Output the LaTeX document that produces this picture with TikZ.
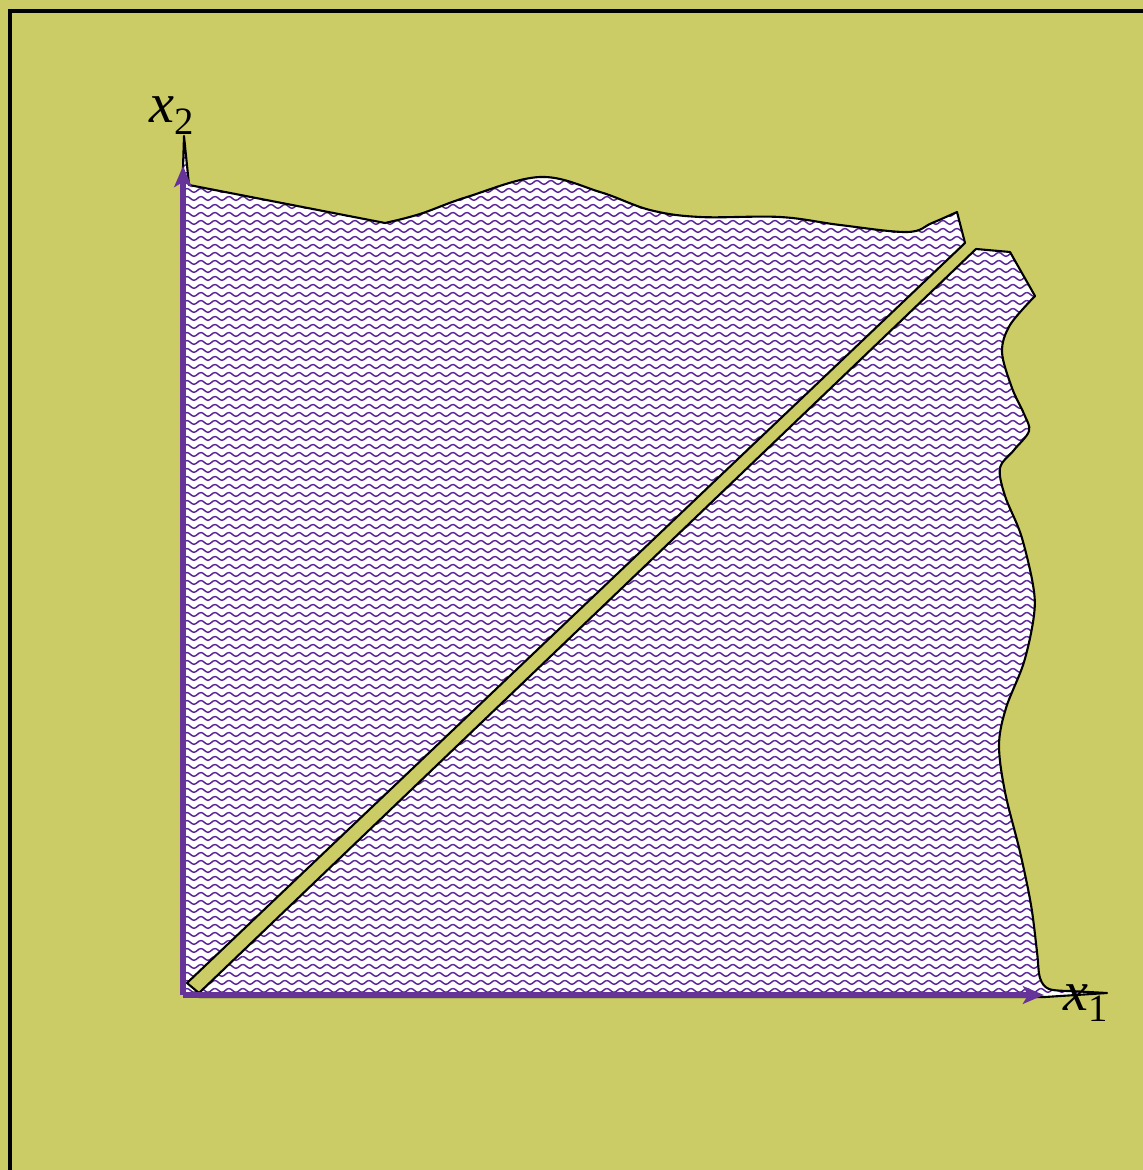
\documentclass[tikz,border=0pt]{standalone}
\usepackage{fontspec}
\setmainfont{Liberation Serif}
\usepackage{tikz}
\usetikzlibrary{arrows.meta, patterns}
\usepackage{xcolor}
\definecolor{domolive}{RGB}{204,204,102}
\definecolor{domaxis}{RGB}{102,51,153}
\definecolor{domwave}{RGB}{90,35,155}
\pgfdeclarepatternformonly{domwaves}{\pgfpointorigin}{\pgfpoint{4.1pt}{2.28pt}}{\pgfpoint{4.1pt}{2.28pt}}{
  \pgfsetlinewidth{0.45pt}
  \pgfpathmoveto{\pgfpoint{0pt}{1.74pt}}
  \pgfpathcurveto{\pgfpoint{0.74pt}{1.74pt}}{\pgfpoint{1.31pt}{0.54pt}}{\pgfpoint{2.05pt}{0.54pt}}
  \pgfpathcurveto{\pgfpoint{2.79pt}{0.54pt}}{\pgfpoint{3.36pt}{1.74pt}}{\pgfpoint{4.1pt}{1.74pt}}
  \pgfusepath{stroke}
}
\newcommand{\axlab}[2]{\textit{#1}\raisebox{-0.45ex}{\fontsize{11}{13}\selectfont #2}}

\begin{document}
\begin{tikzpicture}[x=0.01cm, y=-0.01cm,
  regionpart/.style={draw=black, line width=0.6pt, line join=round,
    preaction={fill=white}, pattern=domwaves, pattern color=domwave},
  axisline/.style={domaxis, line width=1.5pt, -{Stealth[length=6pt, width=5pt, inset=1.5pt]}},
  axlabel/.style={font=\fontsize{16}{19}\selectfont, inner sep=0pt}]
\useasboundingbox (0,0) rectangle (1143,1170);
\fill[domolive] (0,0) rectangle (1143,1170);
\draw[line width=1.15pt] (10,1170) -- (10,11) -- (1143,11);
% upper part, above the strip
\draw[regionpart] (183,994) -- (183,168) -- (184,136) -- (189,185)
  -- plot[smooth, tension=0.6] coordinates {(385,223) (420,214) (467,197) (540,177)
    (600,192) (650,210) (700,217) (780,217) (840,225) (907,232) (932,223) (957,212)}
  -- (965,243) -- (187,983) -- (199,993) -- cycle;
% lower part, below the strip
\draw[regionpart] (199,993) -- (976,249) -- (1010,252)
  -- plot[smooth, tension=0.55] coordinates {(1035,296) (1010,325) (1002,352) (1012,388)
    (1024,414) (1029,431) (1014,450) (1000,468) (1005,496) (1021,535) (1033,585)
    (1034,615) (1024,662) (1006,708) (999,745) (1005,792) (1020,852) (1031,905)
    (1037,952) (1040,978) (1049,989) (1070,991)}
  -- (1107,993) -- (1045,997) -- (199,997) -- cycle;
% axes
\coordinate (O) at (183,995);
\coordinate (X1tip) at (1044,995);
\coordinate (X2tip) at (183,166);
\draw[axisline] (O) -- (X1tip);
\draw[axisline] (O) -- (X2tip);
\node[axlabel, anchor=base west] (labx2) at (149,123) {\axlab{x}{2}};
\node[axlabel, anchor=base west] (labx1) at (1063,1010) {\axlab{x}{1}};
\end{tikzpicture}
\end{document}
